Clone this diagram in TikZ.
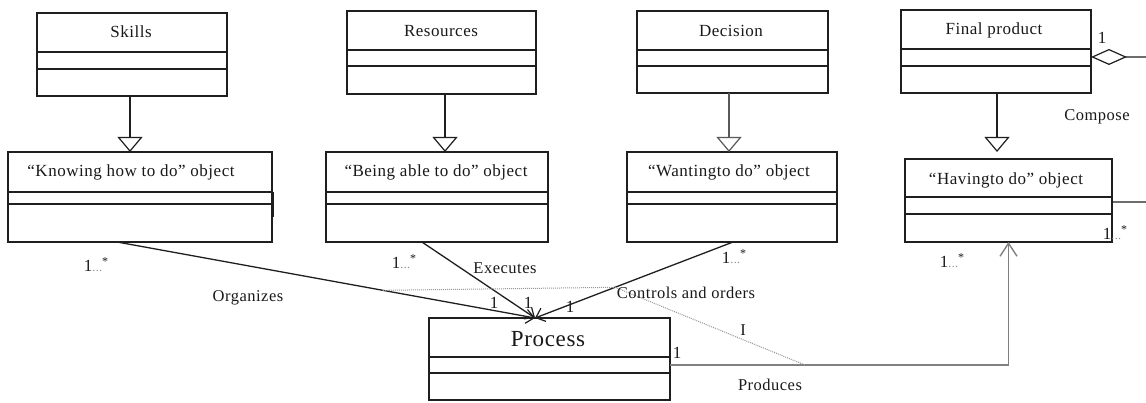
\documentclass[tikz,border=0pt]{standalone}
\usepackage{fontspec}
\setmainfont{Liberation Serif}[LetterSpace=3]
\usetikzlibrary{arrows.meta,calc}
\newcommand\umlbox[7]{%
  \node[box, minimum width={(#4-#2)*1pt}, minimum height={(#5-#3)*1pt}] (#1) at (#2,#3) {};
  \draw[div] (#2,#6) -- (#4,#6) (#2,#7) -- (#4,#7);
}
\newcommand\mult{1{\fontsize{12}{12}\selectfont\color{black!45}...}\raisebox{6pt}{\fontsize{12}{12}\selectfont *}}
\begin{document}
\begin{tikzpicture}[x=1pt,y=-1pt,
  box/.style={draw=black!88, line width=1.3pt, inner sep=0pt, outer sep=0pt, anchor=north west},
  div/.style={draw=black!88, line width=1.3pt},
  lab/.style={font=\fontsize{17}{20}\selectfont, inner sep=0pt, text=black!90},
  clab/.style={font=\fontsize{16.5}{20}\selectfont, inner sep=0pt, text=black!90},
  big/.style={font=\fontsize{23}{27}\selectfont, inner sep=0pt, text=black!90},
  gen/.style={draw=black!88, line width=1.3pt, -{Triangle[open, length=15pt, width=25pt, line width=1.2pt]}},
  assoc/.style={draw=black!88, line width=1.3pt, -{Straight Barb[length=8pt, width=14pt, line width=1.2pt]}},
  prod/.style={draw=black!50, line width=1.8pt, -{Straight Barb[length=13pt, width=17pt, line width=1.4pt]}},
  note/.style={draw=black!40, line width=1pt, densely dotted},
  agg/.style={draw=black!88, line width=1.3pt, {Diamond[open, length=36pt, width=16pt, line width=1.2pt]}-}
]
\fill[white] (0,0) rectangle (1146,403);
\useasboundingbox (0,0) rectangle (1146,403);

% boxes
\umlbox{skills}{37}{13}{227}{96}{52}{69}
\umlbox{res}{347}{11}{536}{94}{50}{66}
\umlbox{dec}{637}{11}{828}{93}{50}{66}
\umlbox{fin}{901}{10}{1091}{93}{49}{66}
\umlbox{know}{8}{152}{272}{242}{192}{204}
\umlbox{being}{326}{152}{548}{242}{192}{204}
\umlbox{want}{627}{152}{837}{242}{192}{204}
\umlbox{hav}{905}{159}{1112}{242}{197}{214}
\umlbox{proc}{429}{318}{670}{400}{357}{373}

% small artifact on the knowing box
\draw[line width=2pt, draw=black!88] ([xshift=1pt]$(know.north east)!0.444!(know.south east)$) -- ([xshift=1pt]$(know.north east)!0.722!(know.south east)$);

% box titles
\node[lab] (skills-t) at (131,32) {Skills};
\node[lab] (res-t) at (441,31) {Resources};
\node[lab] (dec-t) at (731,31) {Decision};
\node[lab] (fin-t) at (994,30) {Final product};
\node[lab] (know-t) at (131,172) {“Knowing how to do” object};
\node[lab] (being-t) at (436,172) {“Being able to do” object};
\node[lab] (want-t) at (729,172) {“Wantingto do” object};
\node[lab] (hav-t) at (1006,180) {“Havingto do” object};
\node[big] (proc-t) at (548,339) {Process};

% generalizations
\draw[gen] ([xshift=-2pt]skills.south) -- ([xshift=-2pt]skills.south |- know.north);
\draw[gen] ([xshift=3.5pt]res.south) -- ([xshift=3.5pt]res.south |- being.north);
\draw[gen, draw=black!65] ([xshift=-3.5pt]dec.south) -- ([xshift=-3.5pt]dec.south |- want.north);
\draw[gen] ([xshift=1pt]fin.south) -- ($([xshift=1pt]fin.south |- hav.north)+(0,-7)$);

% associations to process
\coordinate (ptop) at ($(proc.north west)!0.44!(proc.north east)$);
\coordinate (kn-s) at ($(know.south west)!0.413!(know.south east)$);
\coordinate (be-s) at ($(being.south west)!0.432!(being.south east)$);
\coordinate (wa-s) at ($(want.south west)!0.505!(want.south east)$);
\draw[assoc] (kn-s) -- (ptop) coordinate[pos=0.636] (d1);
\draw[assoc] (be-s) -- (ptop);
\draw[assoc] (wa-s) -- (ptop) coordinate[pos=0.596] (d2);

% produces
\coordinate (pr) at ($(proc.north east)!0.573!(proc.south east)$);
\draw[prod] (pr) -| (hav.south);
\coordinate (d3) at ($(pr)+(135,0)$);

% dotted note line
\draw[note] (d1) -- (d2) -- (d3);

% aggregation at the right
\coordinate (fin-e) at ($(fin.north east)!0.566!(fin.south east)$);
\coordinate (edgeA) at (1150,57);
\draw[agg] (fin-e) -- (edgeA);
\coordinate (hav-e) at ($(hav.north east)!0.518!(hav.south east)$);
\coordinate (edgeB) at (1150,202);
\draw[div] (hav-e) -- (edgeB);

% multiplicities
\node[lab] (m1) at (96,265) {\mult};
\node[lab] (m2) at (404,262) {\mult};
\node[lab] (m3) at (734,257) {\mult};
\node[lab] (m4) at (1115,233) {\mult};
\node[lab] (m5) at (952,261) {\mult};
\node[lab] (m6) at (1102,38) {1};
\node[lab] (m7) at (494,303) {1};
\node[lab] (m8) at (528,303) {1};
\node[lab] (m9) at (570,307) {1};
\node[lab] (m10) at (677,353) {1};

% association labels
\node[clab] (l-org) at (248,298) {Organizes};
\node[clab] (l-exe) at (505,268) {Executes};
\node[clab] (l-ctl) at (686,293) {Controls and orders};
\node[clab] (l-i) at (743,330) {I};
\node[clab] (l-prod) at (770,385) {Produces};
\node[clab] (l-comp) at (1097,117) {Compose};
\end{tikzpicture}
\end{document}
